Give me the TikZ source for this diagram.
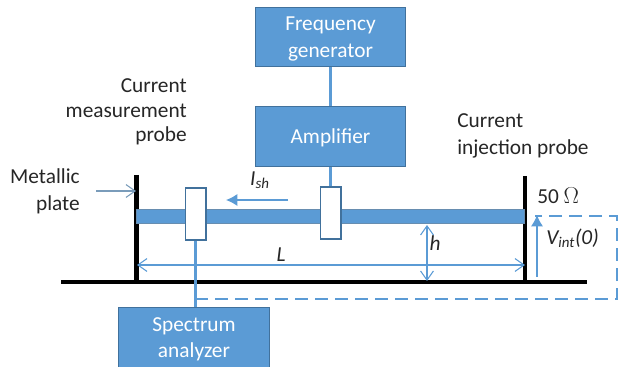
\documentclass[tikz,border=0pt]{standalone}
\usepackage{fontspec}
\setmainfont{Carlito}
\usetikzlibrary{arrows.meta,positioning}
\definecolor{boxblue}{HTML}{5B9BD5}
\definecolor{boxedge}{HTML}{41719C}

\begin{document}
\begin{tikzpicture}[
    x=0.75pt, y=-0.75pt,
    font=\fontsize{16}{20}\selectfont,
    box/.style={draw=boxedge, line width=0.9pt, fill=boxblue, text=white, align=center,
      minimum width=113pt, minimum height=44.5pt, inner sep=0pt, text depth=0pt},
    clamp/.style={draw=boxedge, line width=1pt, fill=white, minimum width=15.5pt,
      minimum height=39pt, inner sep=0pt},
    label/.style={align=right, text=black!85, inner sep=0pt},
    wire/.style={draw=boxblue, line width=2pt},
    plate/.style={draw=black, line width=3.2pt},
    open/.style={draw=boxblue, line width=0.8pt, {Straight Barb[length=2.4mm,width=3.4mm,line width=0.8pt]}-{Straight Barb[length=2.4mm,width=3.4mm,line width=0.8pt]}},
    solid tip/.style={draw=boxblue, line width=0.9pt, -{Latex[length=3mm,width=3.2mm]}},
    dash line/.style={draw=boxblue, line width=2.15pt, dash pattern=on 9.5pt off 5.5pt}
  ]
    \useasboundingbox (0,0) rectangle (618,367);

    \node[box] (generator) at (330.5,37) {Frequency\\generator};
    \node[box] (amplifier) at (330.5,136.5) {Amplifier};
    \node[box] (analyzer) at (194,337.5) {Spectrum\\analyzer};

    \coordinate (leftTop) at (136.5,175);
    \coordinate (leftFoot) at (136.5,282);
    \coordinate (rightTop) at (525,176);
    \coordinate (rightFoot) at (525,282);
    \coordinate (groundA) at (61,282);
    \coordinate (groundB) at (587,282);

    \draw[plate] (leftTop) -- (leftFoot);
    \draw[plate] (rightTop) -- (rightFoot);
    \draw[plate] (groundA) -- (groundB);

    \node[draw=boxedge!80, line width=0.8pt, fill=boxblue, minimum width=291pt,
      minimum height=10.5pt, inner sep=0pt] (line) at (330.5,216.5) {};
    \node[clamp] (probeL) at (195.5,214) {};
    \node[clamp] (probeR) at (330.5,213) {};

    \draw[wire] (generator) -- (amplifier);
    \draw[wire] (amplifier) -- (probeR);
    \draw[wire] (probeL) -- (analyzer.north -| probeL);

    % return path
    \coordinate (d1) at (195,299);
    \coordinate (d2) at (617,299);
    \coordinate (d3) at (617,216);
    \coordinate (d4) at (535,216);
    \draw[dash line] (d1) -- (d2) -- (d3) -- (d4);

    \node[label, anchor=east] (measure) at (187,112) {Current\\[-1.5pt]measurement\\[-1.5pt]probe};
    \node[label, align=left, anchor=west] (inject) at (457,136) {Current\\injection probe};
    \node[label, anchor=east] (metal) at (80,191.5) {Metallic\\plate};
    \node[label, anchor=west] (ohm) at (537,196) {50 $\Omega$};
    \node[label, anchor=west] (vint) at (546,238) {\textit{V\textsubscript{int}(0)}};
    \node[label] (hgt) at (435,243) {\textit{h}};
    \node[label] (len) at (281,255) {\textit{L}};
    \node[label] (ish) at (260,180) {\textit{I\textsubscript{sh}}};

    \coordinate (m0) at (96,191);
    \coordinate (m1) at (136,191);
    \coordinate (i0) at (288,200);
    \coordinate (i1) at (226,200);
    \coordinate (l0) at (137,265);
    \coordinate (l1) at (525,265);
    \coordinate (h0) at (427,225);
    \coordinate (h1) at (427,281);
    \coordinate (v0) at (537,277);
    \coordinate (v1) at (537,215);

    \draw[draw=boxedge!70, line width=0.9pt, -{Straight Barb[length=2.4mm,width=3.4mm,line width=0.8pt]}] (m0) -- (m1);
    \draw[solid tip] (i0) -- (i1);
    \draw[open] (l0) -- (l1);
    \draw[open] (h0) -- (h1);
    \draw[solid tip] (v0) -- (v1);
  \end{tikzpicture}
\end{document}
